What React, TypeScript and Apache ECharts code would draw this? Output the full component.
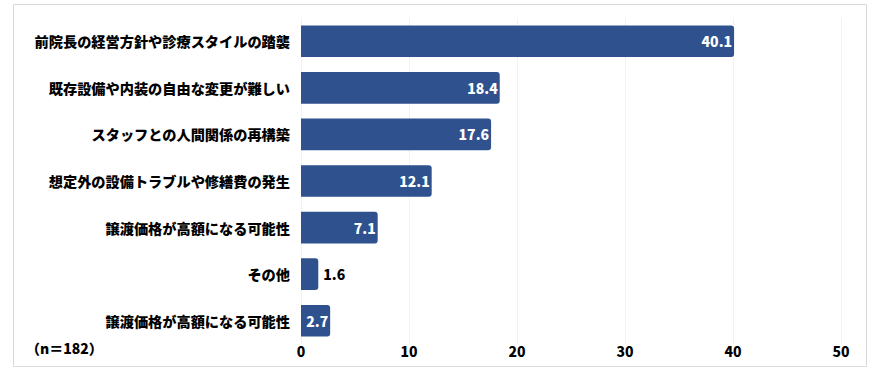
import React, { useEffect, useRef } from "react";
import * as echarts from "echarts";

const categories = [
  "前院長の経営方針や診療スタイルの踏襲",
  "既存設備や内装の自由な変更が難しい",
  "スタッフとの人間関係の再構築",
  "想定外の設備トラブルや修繕費の発生",
  "譲渡価格が高額になる可能性",
  "その他",
  "譲渡価格が高額になる可能性",
];
const values = [40.1, 18.4, 17.6, 12.1, 7.1, 1.6, 2.7];
const outsideLabel = [false, false, false, false, false, true, false];
const xTicks = { min: 0, max: 50, interval: 10 };
const sampleNote = "（n＝182）";

const FONT = "'Noto Sans CJK JP', 'Noto Sans', sans-serif";
const BAR = "#2f528f";
const WEIGHT = 900;

export default function App() {
  const ref = useRef<HTMLDivElement>(null);
  useEffect(() => {
    if (!ref.current) return;
    const chart = echarts.init(ref.current, undefined, { renderer: "svg" });
    chart.setOption({
      animation: false,
      backgroundColor: "#ffffff",
      textStyle: { fontFamily: FONT },
      grid: { left: 301, right: 36, top: 18, bottom: 25, containLabel: false },
      xAxis: {
        type: "value",
        min: xTicks.min,
        max: xTicks.max,
        interval: xTicks.interval,
        axisLine: { show: false },
        axisTick: { show: false },
        splitLine: { show: true, lineStyle: { color: "#f2f2f2", width: 1 } },
        axisLabel: {
          color: "#000",
          fontWeight: WEIGHT,
          fontSize: 14,
          fontFamily: FONT,
          margin: 0,
        },
      },
      yAxis: {
        type: "category",
        inverse: true,
        data: categories,
        axisLine: { show: false },
        axisTick: { show: false },
        splitLine: { show: false },
        axisLabel: {
          color: "#000",
          fontWeight: WEIGHT,
          fontSize: 14.2,
          fontFamily: FONT,
          margin: 11,
        },
      },
      series: [
        {
          type: "bar",
          barWidth: "68%",
          data: values.map((v, i) => ({
            value: v,
            label: outsideLabel[i]
              ? { position: "right", distance: 5, color: "#000" }
              : { position: "insideRight", distance: 2, color: "#fff" },
          })),
          itemStyle: { color: BAR, borderRadius: [0, 3, 3, 0] },
          label: {
            show: true,
            fontWeight: WEIGHT,
            fontSize: 14,
            fontFamily: FONT,
            formatter: (p: any) => Number(p.value).toFixed(1),
          },
        },
      ],
      graphic: [
        {
          type: "rect",
          shape: { x: 13.5, y: 4.5, width: 853, height: 362 },
          style: { fill: "none", stroke: "#d9d9d9", lineWidth: 1 },
          silent: true,
          z: -1,
        },
        {
          type: "text",
          left: 26,
          top: 341,
          style: {
            text: sampleNote,
            fill: "#000",
            fontWeight: WEIGHT,
            fontSize: 14,
            fontFamily: FONT,
          },
        },
      ],
    });
    return () => chart.dispose();
  }, []);
  return (
    <div
      ref={ref}
      style={{ position: "absolute", left: 0, top: 0, width: 877, height: 369 }}
    />
  );
}
